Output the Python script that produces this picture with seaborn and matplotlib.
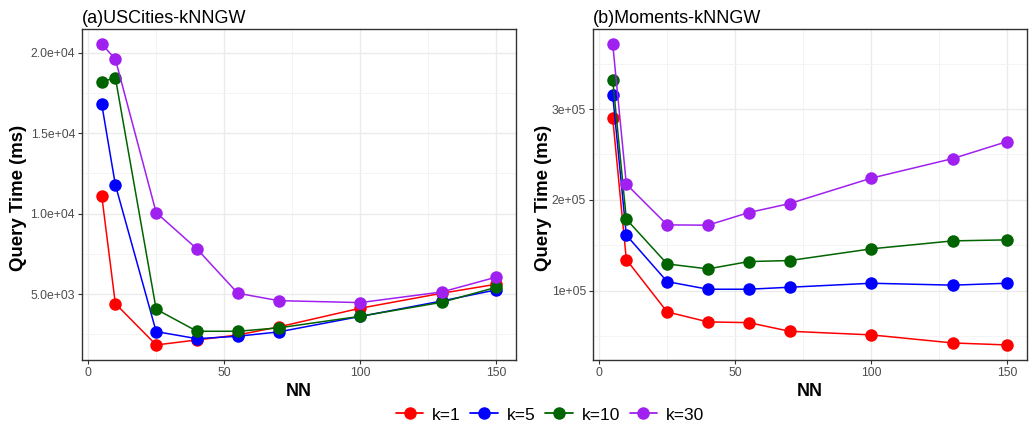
import matplotlib
matplotlib.use("Agg")
import matplotlib.pyplot as plt
from matplotlib.ticker import FixedLocator, FixedFormatter
from matplotlib.lines import Line2D
import seaborn as sns
import pandas as pd

# ---------------- data ----------------
nn = [5, 10, 25, 40, 55, 70, 100, 130, 150]
k_labels = ["k=1", "k=5", "k=10", "k=30"]

uscities_k1 = [11120, 4420, 1850, 2160, 2470, 2970, 4130, 5060, 5620]
uscities_k5 = [16800, 11800, 2680, 2240, 2390, 2660, 3620, 4580, 5270]
uscities_k10 = [18170, 18450, 4070, 2700, 2700, 2910, 3630, 4500, 5430]
uscities_k30 = [20530, 19600, 10070, 7810, 5060, 4600, 4480, 5140, 6060]

moments_k1 = [290000, 134200, 76500, 65500, 64700, 55200, 51200, 42300, 40100]
moments_k5 = [315400, 161100, 109900, 101500, 101500, 103700, 108100, 106000, 108100]
moments_k10 = [332300, 178700, 129400, 123900, 132000, 133100, 146000, 154800, 155900]
moments_k30 = [371700, 217300, 172400, 172100, 186000, 195900, 223900, 245500, 264300]

titles = ["(a)USCities-kNNGW", "(b)Moments-kNNGW"]
x_ticks = [0, 50, 100, 150]
x_tick_labels = ["0", "50", "100", "150"]
a_y_ticks = [5000, 10000, 15000, 20000]
a_y_tick_labels = ["5.0e+03", "1.0e+04", "1.5e+04", "2.0e+04"]
b_y_ticks = [100000, 200000, 300000]
b_y_tick_labels = ["1e+05", "2e+05", "3e+05"]
x_label = "NN"
y_label = "Query Time (ms)"

colors = ["#FF0000", "#0000FF", "#006400", "#A020F0"]


def make_df(series):
    rows = []
    for lab, vals in zip(k_labels, series):
        for x, y in zip(nn, vals):
            rows.append({"NN": x, "time": y, "k": lab})
    return pd.DataFrame(rows)


df_a = make_df([uscities_k1, uscities_k5, uscities_k10, uscities_k30])
df_b = make_df([moments_k1, moments_k5, moments_k10, moments_k30])

# ---------------- figure ----------------
sns.set_theme(style="white")
plt.rcParams["font.family"] = ["Liberation Sans", "DejaVu Sans"]
plt.rcParams["text.color"] = "black"
plt.rcParams["axes.labelcolor"] = "black"

fig = plt.figure(figsize=(10.30, 4.25), dpi=100)
W, H = 1030, 425
boxes = [(82, 29, 516, 360), (593, 29, 1027, 360)]
ylabel_right = [27.5, 551.5]
palette = dict(zip(k_labels, colors))

panels = [
    (df_a, a_y_ticks, a_y_tick_labels, [2500, 7500, 12500, 17500]),
    (df_b, b_y_ticks, b_y_tick_labels, [50000, 150000, 250000, 350000]),
]

for i, ((l, t, r, b), (df, yt, ytl, yminor)) in enumerate(zip(boxes, panels)):
    ax = fig.add_axes([l / W, 1 - b / H, (r - l) / W, (b - t) / H])
    ax.set_facecolor("white")
    sns.lineplot(data=df, x="NN", y="time", hue="k", palette=palette,
                 hue_order=k_labels, marker="o", markersize=9,
                 markeredgewidth=0, linewidth=1.1, legend=False, ax=ax,
                 zorder=3)
    ymin, ymax = df["time"].min(), df["time"].max()
    pad = (ymax - ymin) * 0.05
    ax.set_ylim(ymin - pad, ymax + pad)
    ax.set_xlim(5 - 7.25, 150 + 7.25)
    ax.xaxis.set_major_locator(FixedLocator(x_ticks))
    ax.xaxis.set_major_formatter(FixedFormatter(x_tick_labels))
    ax.xaxis.set_minor_locator(FixedLocator([25, 75, 125]))
    ax.yaxis.set_major_locator(FixedLocator(yt))
    ax.yaxis.set_major_formatter(FixedFormatter(ytl))
    ax.yaxis.set_minor_locator(FixedLocator(yminor))
    ax.grid(which="major", color="#EBEBEB", linewidth=1.0, zorder=0)
    ax.grid(which="minor", color="#F2F2F2", linewidth=0.6, zorder=0)
    ax.set_axisbelow(True)
    for s in ax.spines.values():
        s.set_color("#333333")
        s.set_linewidth(1.0)
    ax.tick_params(axis="both", which="major", length=3, width=0.8,
                   color="#333333", labelcolor="#4D4D4D", labelsize=8.8,
                   pad=2, bottom=True, left=True)
    ax.tick_params(axis="both", which="minor", length=0)
    ax.set_xlabel(x_label, fontsize=13, fontweight="bold", labelpad=3,
                  color="black")
    ax.set_ylabel(y_label, fontsize=13.4, fontweight="bold", color="black")
    ax.yaxis.set_label_coords((ylabel_right[i] - l) / (r - l), 0.49)
    ax.set_title(titles[i], loc="left", fontsize=13, pad=4, color="black")

# legend
handles = [Line2D([0], [0], color=c, marker="o", markersize=9,
                  markeredgewidth=0, linewidth=1.3) for c in colors]
fig.legend(handles, k_labels, loc="center",
           bbox_to_anchor=(550 / W, 1 - 415 / H),
           ncol=4, frameon=False, fontsize=12.5, handlelength=1.6,
           handletextpad=0.5, columnspacing=0.55)

fig.savefig("out.png", dpi=100)
